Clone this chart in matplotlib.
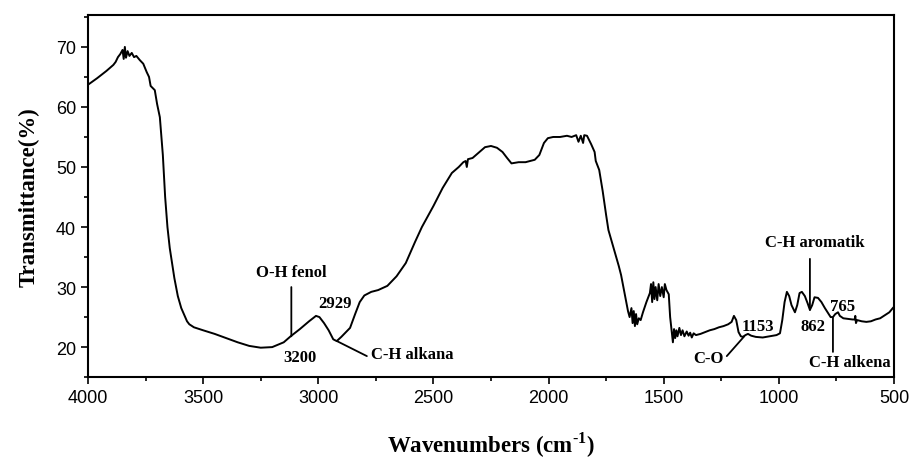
import matplotlib.pyplot as plt
from matplotlib.ticker import MultipleLocator

# FTIR spectrum (wavenumber cm-1, transmittance %)
wavenumber = [
    4000, 3960, 3920, 3890, 3880, 3870, 3860, 3850, 3845, 3840, 3835, 3828, 3820, 3810, 3800,
    3790, 3775, 3760, 3745, 3735, 3728, 3720, 3710, 3700, 3688, 3675, 3665, 3655, 3645, 3635,
    3625, 3610, 3595, 3580, 3570, 3560, 3540, 3500, 3450, 3400, 3350, 3300, 3250, 3200, 3150,
    3120, 3080, 3040, 3010, 2995, 2975, 2955, 2935, 2920, 2900, 2880, 2862, 2840, 2820, 2800,
    2770, 2740, 2700, 2660, 2620, 2580, 2550, 2500, 2460, 2420, 2390, 2370, 2360, 2355, 2350,
    2330, 2300, 2276, 2250, 2224, 2200, 2180, 2161, 2130, 2100, 2060, 2040, 2020, 2003, 1980,
    1950, 1920, 1900, 1880, 1870, 1860, 1850, 1845, 1833, 1815, 1800, 1795, 1780, 1765, 1750,
    1740, 1725, 1710, 1695, 1685, 1675, 1665, 1655, 1648, 1640, 1635, 1630, 1625, 1620, 1615,
    1608, 1600, 1590, 1575, 1560, 1555, 1550, 1545, 1540, 1535, 1528, 1522, 1515, 1508, 1500,
    1495, 1488, 1478, 1472, 1465, 1460, 1455, 1450, 1445, 1440, 1432, 1425, 1418, 1410, 1400,
    1392, 1385, 1378, 1370, 1360, 1340, 1320, 1300, 1280, 1260, 1240, 1220, 1205, 1195, 1185,
    1175, 1165, 1156, 1145, 1134, 1120, 1100, 1070, 1040, 1010, 995, 985, 975, 965, 955,
    945, 930, 920, 910, 900, 887, 875, 865, 855, 845, 830, 815, 800, 785, 775,
    765, 755, 743, 735, 720, 700, 680, 670, 668, 665, 660, 640, 620, 600, 580,
    560, 540, 520, 505, 500,
]
transmittance = [
    63.7, 64.8, 66.0, 67.0, 67.5, 68.3, 68.8, 69.5, 68.0, 70.0, 68.2, 69.3, 68.5, 69.0, 68.3,
    68.5, 67.8, 67.2, 65.8, 65.0, 63.5, 63.2, 62.8, 60.5, 58.3, 52.0, 45.0, 40.0, 36.5, 34.0,
    31.5, 28.5, 26.5, 25.2, 24.3, 23.8, 23.3, 22.8, 22.2, 21.5, 20.8, 20.2, 19.9, 20.0, 20.8,
    21.8, 23.0, 24.3, 25.2, 25.0, 24.0, 22.8, 21.3, 21.0, 21.7, 22.5, 23.2, 25.5, 27.5, 28.6,
    29.2, 29.5, 30.2, 31.8, 34.0, 37.5, 40.0, 43.5, 46.5, 49.0, 50.0, 50.8, 51.0, 50.0, 51.3,
    51.5, 52.5, 53.3, 53.5, 53.2, 52.5, 51.5, 50.6, 50.8, 50.8, 51.2, 52.0, 54.0, 54.8, 55.0,
    55.0, 55.2, 55.0, 55.3, 54.2, 55.2, 54.0, 55.3, 55.2, 53.8, 52.5, 51.0, 49.5, 46.0, 42.0,
    39.5, 37.5, 35.5, 33.5, 32.0, 30.0, 28.0, 26.0, 25.0, 26.5, 24.0, 26.0, 23.5, 25.5, 23.8,
    24.8, 24.5, 25.8, 27.5, 29.0, 30.5, 27.5, 30.8, 28.0, 30.0, 27.8, 30.5, 28.5, 30.0, 28.3,
    30.5, 29.5, 28.8, 25.0, 22.5, 20.8, 23.0, 21.5, 22.8, 21.8, 23.2, 22.0, 22.8, 21.8, 22.6,
    21.9, 22.4, 21.6, 22.3, 22.0, 22.2, 22.5, 22.8, 23.0, 23.3, 23.5, 23.8, 24.2, 25.2, 24.5,
    22.5, 21.8, 21.7, 22.0, 22.2, 21.9, 21.7, 21.6, 21.8, 22.0, 22.3, 24.5, 27.5, 29.2, 28.5,
    27.0, 25.8, 27.0, 29.0, 29.2, 28.5, 27.3, 26.2, 27.0, 28.3, 28.2, 27.5, 26.5, 25.6, 25.0,
    25.0, 25.5, 25.8, 25.2, 24.8, 24.7, 24.6, 24.6, 25.2, 24.0, 24.5, 24.3, 24.2, 24.3, 24.6,
    24.8, 25.3, 25.8, 26.5, 26.7,
]

x_ticks = [4000, 3500, 3000, 2500, 2000, 1500, 1000, 500]
y_ticks = [20, 30, 40, 50, 60, 70]

serif = ['Liberation Serif', 'DejaVu Serif']
sans = ['Liberation Sans', 'DejaVu Sans']

plt.rcParams['mathtext.fontset'] = 'custom'
plt.rcParams['mathtext.rm'] = 'Liberation Serif'
plt.rcParams['mathtext.bf'] = 'Liberation Serif:bold'

fig = plt.figure(figsize=(9.11, 4.6), dpi=100)
ax = fig.add_axes([0.0966, 0.178, 0.8847, 0.787])

ax.plot(wavenumber, transmittance, color='black', linewidth=1.4)

ax.set_xlim(4000, 500)
ax.set_ylim(15, 75.3)
ax.set_xticks(x_ticks)
ax.set_yticks(y_ticks)
ax.xaxis.set_minor_locator(MultipleLocator(250))
ax.yaxis.set_minor_locator(MultipleLocator(5))
ax.tick_params(which='both', direction='out', top=False, right=False, width=1.2)
ax.tick_params(which='major', length=5, labelsize=13)
ax.tick_params(which='minor', length=3)
for lab in ax.get_xticklabels() + ax.get_yticklabels():
    lab.set_family(sans)
for sp in ax.spines.values():
    sp.set_linewidth(1.5)

ax.set_xlabel('Wavenumbers (cm$^{\\mathbf{\u20101}}$)', family=serif, fontweight='bold',
              fontsize=16.5, labelpad=17)
ax.set_ylabel('Transmittance(%)', family=serif, fontweight='bold', fontsize=16.5, labelpad=12)

# Band labels
txt = dict(family=serif, fontweight='bold', fontsize=12, color='black')
line = dict(arrowstyle='-', color='black', linewidth=1.3, shrinkA=0, shrinkB=0)

ax.annotate('', xy=(3117, 21.8), xytext=(3117, 30.0), arrowprops=line)
ax.text(3117, 32.5, 'O-H fenol', ha='center', va='center', **txt)
ax.text(3080, 18.3, '3200', ha='center', va='center', **txt)
ax.text(2927, 27.3, '2929', ha='center', va='center', **txt)
ax.annotate('', xy=(2919, 21.0), xytext=(2789, 18.5), arrowprops=line)
ax.text(2770, 18.9, 'C-H alkana', ha='left', va='center', **txt)
ax.annotate('', xy=(1150, 21.8), xytext=(1226, 18.5), arrowprops=line)
ax.text(1240, 18.2, 'C-O', ha='right', va='center', **txt)
ax.text(1091, 23.5, '1153', ha='center', va='center', **txt)
ax.annotate('', xy=(865, 26.2), xytext=(865, 34.7), arrowprops=line)
ax.text(843, 37.5, 'C-H aromatik', ha='center', va='center', **txt)
ax.text(852, 23.5, '862', ha='center', va='center', **txt)
ax.text(722, 26.8, '765', ha='center', va='center', **txt)
ax.annotate('', xy=(765, 24.9), xytext=(765, 19.2), arrowprops=line)
ax.text(691, 17.5, 'C-H alkena', ha='center', va='center', **txt)

fig.savefig('out.png', dpi=100)
